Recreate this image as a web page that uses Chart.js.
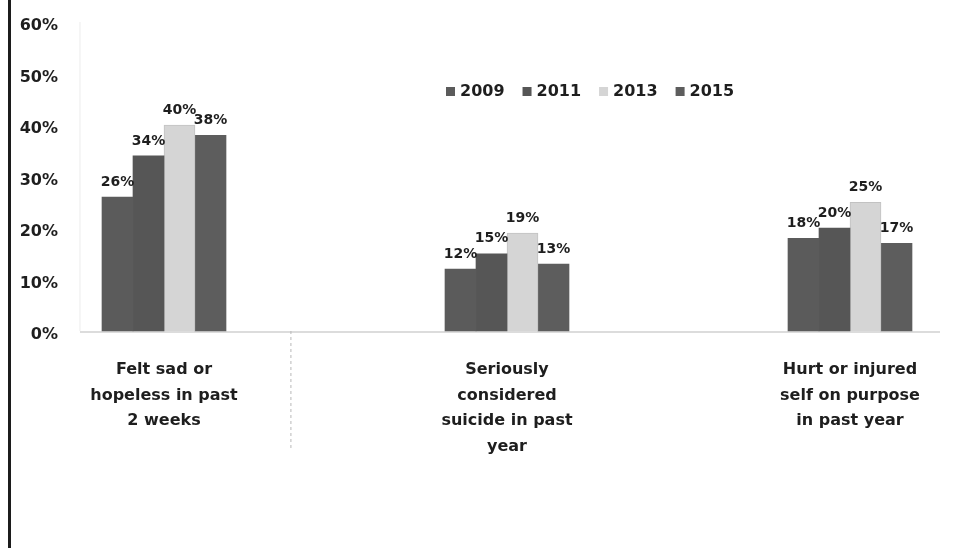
<!DOCTYPE html>
<html>
<head>
<meta charset="utf-8">
<script src="https://cdn.jsdelivr.net/npm/chart.js@4.4.1/dist/chart.umd.min.js"></script>
<style>
  html, body { margin: 0; padding: 0; background: #fff; }
  #wrap { position: relative; width: 963px; height: 548px; }
  /* dark edge of the scanned page */
  #wrap:before { content: ''; position: absolute; left: 8px; top: 0; width: 3px; height: 548px; background: #1c1c1c; }
  canvas { display: block; }
</style>
</head>
<body>
<div id="wrap"><canvas id="chart" width="963" height="548"></canvas></div>
<script>
// Chart data
const categories = [
  ['Felt sad or', 'hopeless in past', '2 weeks'],
  ['Seriously', 'considered', 'suicide in past', 'year'],
  ['Hurt or injured', 'self on purpose', 'in past year']
];
const years = ['2009', '2011', '2013', '2015'];
const values2009 = [26, 12, 18];
const values2011 = [34, 15, 20];
const values2013 = [40, 19, 25];
const values2015 = [38, 13, 17];
const yTicks = [0, 10, 20, 30, 40, 50, 60];

const barColors = ['#5b5b5b', '#565656', '#d5d5d5', '#5d5d5d'];
const FONT = '"DejaVu Sans", sans-serif';
const TEXT = '#1e1e1e';

// Percent labels above each bar
const valueLabels = {
  id: 'valueLabels',
  afterDatasetsDraw(chart) {
    const ctx = chart.ctx;
    ctx.save();
    ctx.font = 'bold 14px ' + FONT;
    ctx.fillStyle = TEXT;
    ctx.textAlign = 'center';
    ctx.textBaseline = 'bottom';
    chart.data.datasets.forEach((ds, i) => {
      chart.getDatasetMeta(i).data.forEach((bar, j) => {
        ctx.fillText(ds.data[j] + '%', bar.x, bar.y - 8);
      });
    });
    ctx.restore();
  }
};

// Legend drawn inside the plot, like the original
const innerLegend = {
  id: 'innerLegend',
  afterDraw(chart) {
    const ctx = chart.ctx;
    let x = 446;
    const y = 91;
    ctx.save();
    ctx.font = 'bold 16px ' + FONT;
    ctx.textBaseline = 'middle';
    chart.data.datasets.forEach(ds => {
      ctx.fillStyle = ds.backgroundColor;
      ctx.fillRect(x, y - 4, 9, 9);
      ctx.fillStyle = TEXT;
      ctx.fillText(ds.label, x + 14, y + 1);
      x += 14 + ctx.measureText(ds.label).width + 18;
    });
    ctx.restore();
  }
};

// Baseline and faint separators
const axisLines = {
  id: 'axisLines',
  beforeDatasetsDraw(chart) {
    const ctx = chart.ctx;
    const xs = chart.scales.x;
    const ys = chart.scales.y;
    const y0 = ys.getPixelForValue(0);
    ctx.save();
    ctx.strokeStyle = '#ececec';
    ctx.lineWidth = 1;
    const xl = xs.getPixelForValue(-0.245);
    ctx.beginPath();
    ctx.moveTo(xl, ys.getPixelForValue(60));
    ctx.lineTo(xl, y0);
    ctx.stroke();
    ctx.strokeStyle = '#dcdcdc';
    ctx.lineWidth = 2;
    ctx.beginPath();
    ctx.moveTo(xl, y0 + 1);
    ctx.lineTo(940, y0 + 1);
    ctx.stroke();
    ctx.strokeStyle = '#b8b8b8';
    ctx.lineWidth = 1;
    ctx.setLineDash([3, 3]);
    const xd = xs.getPixelForValue(0.37);
    ctx.beginPath();
    ctx.moveTo(xd, y0);
    ctx.lineTo(xd, y0 + 118);
    ctx.stroke();
    ctx.restore();
  }
};

const seriesValues = [values2009, values2011, values2013, values2015];

new Chart(document.getElementById('chart').getContext('2d'), {
  type: 'bar',
  data: {
    labels: categories,
    datasets: years.map((yr, i) => ({
      label: yr,
      data: seriesValues[i],
      backgroundColor: barColors[i],
      borderColor: i === 2 ? '#c2c2c2' : barColors[i],
      borderWidth: i === 2 ? 1 : 0,
      barThickness: 31,
      clip: false
    }))
  },
  options: {
    responsive: false,
    animation: false,
    layout: { padding: { top: 22, right: 113, left: 0, bottom: 0 } },
    plugins: {
      legend: { display: false },
      tooltip: { enabled: false }
    },
    scales: {
      x: {
        offset: false,
        grid: { display: false, drawTicks: false },
        border: { display: false },
        ticks: {
          color: TEXT,
          padding: 26,
          maxRotation: 0,
          autoSkip: false,
          font: { family: FONT, size: 16, weight: 'bold', lineHeight: 1.6 }
        },
        afterFit: scale => { scale.height = 217; }
      },
      y: {
        min: 0,
        max: 60,
        afterBuildTicks: scale => { scale.ticks = yTicks.map(v => ({ value: v })); },
        grid: { display: false, drawTicks: false },
        border: { display: false },
        ticks: {
          color: TEXT,
          padding: 106,
          labelOffset: 4,
          callback: v => v + '%',
          font: { family: FONT, size: 16, weight: 'bold' }
        },
        afterFit: scale => {
          scale.width = 164;
          // the big label padding should not push the plot down
          scale.paddingTop = 8;
          scale.paddingBottom = 8;
        }
      }
    }
  },
  plugins: [axisLines, valueLabels, innerLegend]
});
</script>
</body>
</html>
